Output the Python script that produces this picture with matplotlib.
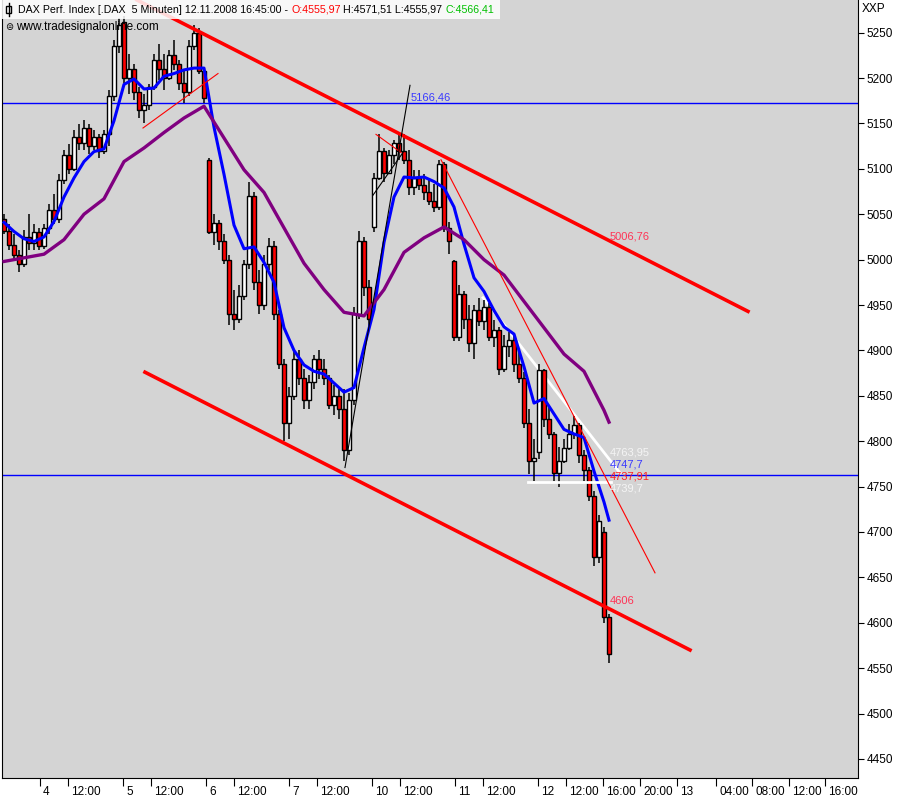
import matplotlib
matplotlib.use("Agg")
import matplotlib.pyplot as plt
import matplotlib.transforms as mtransforms
from matplotlib.patches import Rectangle
import numpy as np

plt.rcParams['font.family'] = ['Liberation Sans', 'DejaVu Sans']

# 5-minute DAX candles, squeezed to one candle per ~25 minutes
opens = [5045, 5032, 5016, 5005, 4995, 5025, 5018, 5030, 5015, 5035,
         5055, 5045, 5088, 5115, 5100, 5135, 5128, 5145, 5125, 5135,
         5120, 5138, 5180, 5235, 5262, 5200, 5210, 5185, 5165, 5170,
         5190, 5220, 5210, 5200, 5225, 5215, 5195, 5185, 5235, 5250,
         5208, 5110, 5030, 5040, 5020, 5000, 4940, 4935, 4960, 4995,
         5070, 4975, 4950, 4995, 5015, 4940, 4885, 4820, 4850, 4890,
         4870, 4845, 4865, 4890, 4880, 4870, 4840, 4850, 4835, 4790,
         4845, 4940, 5020, 4970, 5036, 5090, 5120, 5095, 5115, 5128,
         5120, 5110, 5080, 5090, 5082, 5075, 5065, 5058, 5105, 5035,
         4998, 4915, 4962, 4935, 4908, 4945, 4932, 4948, 4915, 4922,
         4880, 4905, 4912, 4885, 4870, 4820, 4778, 4788, 4878, 4825,
         4808, 4765, 4778, 4793, 4808, 4818, 4785, 4768, 4740, 4672,
         4700, 4606]
highs = [5050, 5039, 5028, 5011, 5033, 5050, 5039, 5035, 5039, 5061,
         5072, 5094, 5121, 5127, 5143, 5149, 5154, 5149, 5143, 5138,
         5143, 5187, 5242, 5266, 5268, 5226, 5215, 5190, 5182, 5193,
         5226, 5237, 5226, 5231, 5242, 5220, 5209, 5242, 5258, 5255,
         5212, 5112, 5050, 5044, 5028, 5005, 4967, 4972, 5000, 5085,
         5075, 4989, 5005, 5024, 5020, 4945, 4890, 4860, 4900, 4901,
         4879, 4873, 4895, 4901, 4890, 4873, 4862, 4857, 4857, 4853,
         4948, 5031, 5025, 4978, 5095, 5138, 5123, 5121, 5132, 5141,
         5138, 5121, 5099, 5099, 5094, 5088, 5083, 5110, 5107, 5041,
         5000, 4972, 4965, 4950, 4950, 4958, 4956, 4952, 4933, 4926,
         4917, 4920, 4916, 4899, 4876, 4836, 4802, 4885, 4880, 4839,
         4810, 4794, 4802, 4819, 4828, 4820, 4790, 4772, 4745, 4719,
         4705, 4610]
lows = [5028, 5011, 5000, 4986, 4992, 5011, 5011, 5011, 5012, 5028,
        5039, 5040, 5083, 5094, 5098, 5121, 5121, 5116, 5121, 5112,
        5116, 5125, 5175, 5228, 5195, 5182, 5176, 5156, 5150, 5165,
        5187, 5198, 5187, 5198, 5209, 5187, 5173, 5180, 5231, 5204,
        5173, 5028, 5016, 5011, 4995, 4928, 4923, 4930, 4956, 4990,
        4967, 4940, 4945, 4989, 4934, 4879, 4800, 4802, 4845, 4862,
        4835, 4835, 4857, 4868, 4862, 4835, 4829, 4824, 4778, 4785,
        4840, 4935, 4960, 4925, 5030, 5088, 5085, 5094, 5105, 5110,
        5105, 5071, 5071, 5077, 5066, 5060, 5052, 5055, 5030, 5006,
        4910, 4910, 4924, 4898, 4890, 4927, 4922, 4910, 4904, 4873,
        4876, 4893, 4876, 4864, 4814, 4764, 4756, 4780, 4816, 4802,
        4756, 4749, 4776, 4790, 4802, 4776, 4756, 4734, 4662, 4666,
        4600, 4556]
closes = [5032, 5016, 5005, 4995, 5025, 5018, 5030, 5015, 5035, 5055,
          5045, 5088, 5115, 5100, 5135, 5128, 5145, 5125, 5135, 5120,
          5138, 5180, 5235, 5258, 5200, 5210, 5185, 5165, 5170, 5190,
          5220, 5210, 5200, 5225, 5215, 5195, 5185, 5235, 5250, 5208,
          5178, 5030, 5040, 5020, 5000, 4940, 4935, 4960, 4995, 5070,
          4975, 4950, 4995, 5015, 4940, 4885, 4820, 4850, 4890, 4870,
          4845, 4865, 4890, 4880, 4870, 4840, 4850, 4835, 4790, 4845,
          4940, 5020, 4970, 4935, 5090, 5120, 5095, 5115, 5128, 5120,
          5110, 5080, 5090, 5082, 5075, 5065, 5058, 5105, 5035, 5020,
          4915, 4962, 4935, 4908, 4945, 4932, 4948, 4915, 4922, 4880,
          4905, 4912, 4885, 4870, 4820, 4778, 4782, 4878, 4825, 4808,
          4765, 4778, 4793, 4808, 4818, 4785, 4768, 4740, 4672, 4712,
          4606, 4566]

# moving averages as drawn in the screenshot
fast_ma = [5041, 5031, 5023, 5020, 5025, 5042, 5069, 5090, 5108, 5119,
           5122, 5153, 5193, 5199, 5188, 5189, 5202, 5205, 5209, 5211,
           5211, 5146, 5094, 5038, 5012, 5014, 4997, 4975, 4925, 4900,
           4884, 4877, 4874, 4864, 4854, 4859, 4903, 4945, 5019, 5069,
           5091, 5090, 5091, 5086, 5079, 5058, 5017, 4980, 4965, 4944,
           4926, 4918, 4882, 4842, 4847, 4830, 4813, 4808, 4804, 4767,
           4733, 4713]
fast_ma_bars = list(range(0, 121, 2)) + [121]
slow_ma = [4998, 5002, 5006, 5022, 5050, 5067, 5108, 5123, 5140, 5156,
           5169, 5134, 5099, 5074, 5035, 4996, 4967, 4942, 4938, 4967,
           5008, 5024, 5036, 5022, 5000, 4983, 4954, 4925, 4896, 4877,
           4834, 4821]
slow_ma_bars = list(range(0, 121, 4)) + [121]

# time axis
tick_pos = [7.2, 12.8, 23.8, 29.4, 40.4, 46.0, 57.0, 62.6, 73.6, 79.2, 90.2,
            95.8, 106.8, 112.4, 119.8, 127.2, 134.6, 142.4, 149.6, 157.0, 164.2]
tick_labels = ['4', '12:00', '5', '12:00', '6', '12:00', '7', '12:00', '10', '12:00',
               '11', '12:00', '12', '12:00', '16:00', '20:00', '13', '04:00',
               '08:00', '12:00', '16:00']
price_ticks = list(range(4450, 5251, 50))

# drawn trend lines: ([bar, bar], [price, price])
channel_top = ([26.6, 148.8], [5286, 4943])
channel_bottom = ([28.2, 137.2], [4876, 4570])
steep_red = ([87.4, 130.2], [5110, 4655])
small_red = ([27.8, 42.8], [5145, 5205])
small_red2 = ([74.4, 79.4], [5138, 5118])
black_steep = ([68.2, 81.2], [4771, 5192])
black_short = ([73.8, 79.8], [5071, 5118])
white_diag = ([95.8, 123.2], [4958, 4765])
white_flat = ([104.8, 121.4], [4755, 4755])
blue_levels = [5172, 4763]

# value labels: (bar, price, text, colour)
value_labels = [(81.4, 5179, '5166,46', '#3a3aff'),
                (121.2, 5026, '5006,76', '#ff3355'),
                (121.2, 4788, '4763,95', '#f4f4f4'),
                (121.2, 4774, '4747,7', '#3a3aff'),
                (121.2, 4761, '4737,91', '#ff2020'),
                (121.2, 4748, '4739,7', '#f4f4f4'),
                (121.2, 4624, '4606', '#ff3355')]

fig = plt.figure(figsize=(9, 8), dpi=100)
ax = fig.add_axes([2 / 900, 22 / 800, 856 / 900, 778 / 800])
ax.set_facecolor('#d4d4d4')

# candles
o = np.array(opens, dtype=float)
c = np.array(closes, dtype=float)
bars = np.arange(len(c))
body_col = np.where(c >= o, 'white', '#ff0000')
ax.vlines(bars, lows, highs, color='black', lw=1.1, zorder=3)
ax.bar(bars, np.maximum(np.abs(c - o), 1.0), bottom=np.minimum(o, c), width=0.8,
       color=body_col, edgecolor='black', linewidth=1.0, zorder=4)

# averages
ax.plot(fast_ma_bars, fast_ma, color='#0000ff', lw=2.2, zorder=5)
ax.plot(slow_ma_bars, slow_ma, color='#800080', lw=2.4, zorder=5)

# horizontal levels and trend lines
for lvl in blue_levels:
    ax.axhline(lvl, color='#0000ff', lw=1, zorder=2)
ax.plot(*white_diag, color='white', lw=2, zorder=2)
ax.plot(*white_flat, color='white', lw=2, zorder=6)
ax.plot(*channel_top, color='#ff0000', lw=2.6, zorder=6)
ax.plot(*channel_bottom, color='#ff0000', lw=2.6, zorder=6)
ax.plot(*steep_red, color='#ff0000', lw=0.8, zorder=6)
ax.plot(*small_red, color='#ff0000', lw=0.8, zorder=6)
ax.plot(*small_red2, color='#ff0000', lw=0.8, zorder=6)
ax.plot(*black_steep, color='black', lw=0.8, zorder=6)
ax.plot(*black_short, color='black', lw=0.8, zorder=6)

for bx, py, txt, col in value_labels:
    ax.text(bx, py, txt, color=col, fontsize=8, ha='left', va='center', zorder=8)

ax.set_xlim(-0.4, 170.8)
ax.set_ylim(4429, 5286)

ax.yaxis.tick_right()
ax.set_yticks(price_ticks)
ax.tick_params(axis='y', direction='out', length=4, pad=2, labelsize=8.5)
ax.set_xticks(tick_pos)
ax.set_xticklabels(tick_labels)
ax.tick_params(axis='x', direction='out', length=6, pad=0, labelsize=8.5)
shift = mtransforms.ScaledTranslation(3 / 100, 0, fig.dpi_scale_trans)
for lab in ax.get_xticklabels():
    lab.set_ha('left')
    lab.set_transform(lab.get_transform() + shift)
ax.spines['top'].set_visible(False)
for s in ['left', 'right', 'bottom']:
    ax.spines[s].set_color('black')

# header box
ax.add_patch(Rectangle((0, 1 - 19 / 800), 500 / 900, 19 / 800, transform=fig.transFigure,
                       facecolor='white', alpha=0.85, edgecolor='none', zorder=20,
                       clip_on=False))
ax.add_patch(Rectangle((6 / 900, 1 - 13 / 800), 5 / 900, 7 / 800, transform=fig.transFigure,
                       facecolor='white', edgecolor='black', lw=1, zorder=21, clip_on=False))
ax.plot([8.5 / 900, 8.5 / 900], [1 - 16 / 800, 1 - 3 / 800], color='black', lw=1,
        transform=fig.transFigure, zorder=21, clip_on=False)

pieces = [('DAX Perf. Index [.DAX  5 Minuten] 12.11.2008 16:45:00 - ', 'black'),
          ('O:4555,97', '#ff0000'),
          (' H:4571,51 L:4555,97 ', 'black'),
          ('C:4566,41', '#00c000')]
t = ax.text(18 / 900, 1 - 10 / 800, pieces[0][0], color=pieces[0][1], fontsize=7.7,
            ha='left', va='center', transform=fig.transFigure, zorder=22)
for txt, col in pieces[1:]:
    t = ax.annotate(txt, xy=(1, 0), xycoords=t, color=col, fontsize=7.7,
                    ha='left', va='bottom', zorder=22, annotation_clip=False)

ax.text(5 / 900, 1 - 27 / 800, '\u229c', fontsize=7, ha='left', va='center',
        transform=fig.transFigure, zorder=22)
ax.text(16 / 900, 1 - 27 / 800, 'www.tradesignalonline.com', fontsize=8.5,
        ha='left', va='center', transform=fig.transFigure, zorder=22)
fig.text(862 / 900, 1 - 9 / 800, 'XXP', fontsize=8.5, ha='left', va='center')

fig.savefig('out.png', dpi=100)
